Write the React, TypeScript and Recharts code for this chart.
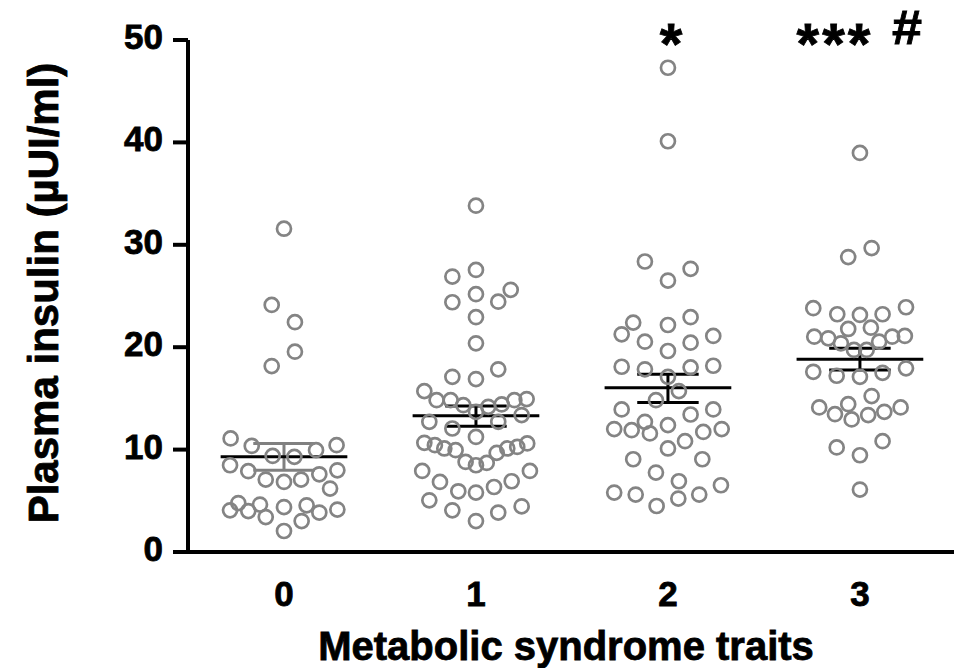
import React from 'react';
import { ScatterChart, Scatter, XAxis, YAxis, ReferenceLine, ReferenceDot } from 'recharts';

const FONT = '"Liberation Sans", Arial, Helvetica, sans-serif';

const categories = [0, 1, 2, 3];
const xTicks = [0, 1, 2, 3];
const yTicks = [0, 10, 20, 30, 40, 50];

// jitter offsets (category units) and values for each group
const g0Offsets = [0, -0.064, 0.057, 0.057, -0.064, -0.278, -0.168, -0.059, 0.054, 0.167, 0.274, -0.281, -0.186, -0.095, 0, 0.089, 0.184, 0.278, 0.24, -0.281, -0.238, -0.186, -0.125, -0.095, 0, 0, 0.092, 0.118, 0.184, 0.278];
const g0Values = [31.57, 24.13, 22.44, 19.56, 18.16, 11.09, 10.36, 9.38, 9.29, 9.94, 10.43, 8.47, 7.89, 7.07, 6.84, 7.07, 7.59, 7.98, 6.19, 4.07, 4.78, 4.0, 4.63, 3.41, 4.39, 2.05, 3.02, 4.56, 3.85, 4.14];

const g1Offsets = [0, -0.123, 0, -0.123, 0, 0.116, 0.181, 0, 0, -0.123, 0, 0.116, -0.269, -0.205, -0.132, -0.066, 0, 0.064, 0.134, 0.2, 0.264, -0.243, -0.123, 0.116, 0.238, 0, -0.269, -0.214, -0.165, -0.106, -0.054, 0, 0.056, 0.108, 0.163, 0.215, 0.267, -0.28, -0.1875, -0.092, 0, 0.094, 0.186, 0.281, -0.243, -0.123, 0, 0.116, 0.238];
const g1Values = [33.82, 26.9, 27.55, 24.39, 25.18, 24.45, 25.6, 22.93, 20.38, 17.11, 16.89, 17.84, 15.71, 14.83, 14.83, 14.34, 13.69, 14.18, 14.41, 14.83, 14.93, 12.71, 12.06, 12.71, 13.37, 11.24, 10.66, 10.43, 10.11, 9.94, 8.8, 8.47, 8.7, 9.68, 10.11, 10.26, 10.6, 7.92, 6.84, 5.93, 5.8, 6.35, 6.91, 7.92, 5.05, 4.07, 3.02, 3.85, 4.46];

const g2Offsets = [0, 0, -0.12, 0, 0.118, -0.181, -0.241, 0, 0.118, -0.12, 0.118, 0.236, 0, -0.241, -0.12, 0.118, 0.236, 0, 0.057, -0.0625, -0.241, -0.12, 0.118, 0.236, -0.28, -0.189, -0.094, 0, 0.184, 0.28, 0.089, 0, -0.181, 0.179, -0.0625, 0.057, -0.28, -0.168, -0.059, 0.054, 0.163, 0.276];
const g2Values = [47.29, 40.11, 28.37, 26.51, 27.65, 22.4, 21.26, 22.17, 22.93, 20.54, 20.44, 21.1, 19.63, 18.09, 17.84, 18.03, 18.19, 17.11, 15.71, 14.83, 13.92, 12.71, 13.43, 13.92, 12.0, 11.9, 11.58, 12.39, 11.73, 12.0, 10.82, 10.11, 9.06, 9.06, 7.76, 6.91, 5.8, 5.61, 4.49, 5.22, 5.61, 6.52];

const g3Offsets = [0, 0.061, -0.061, -0.243, -0.118, 0, 0.118, 0.24, -0.061, 0.057, -0.238, -0.165, -0.099, -0.031, 0.035, 0.1, 0.168, 0.234, -0.243, -0.121, 0, 0.118, 0.24, 0.061, -0.212, -0.061, -0.13, -0.043, 0.043, 0.127, 0.212, -0.121, 0, 0.118, 0];
const g3Values = [38.97, 29.68, 28.8, 23.81, 23.22, 23.15, 23.22, 23.9, 21.78, 21.91, 21.03, 20.87, 20.38, 19.73, 19.73, 20.54, 21.03, 21.1, 17.6, 17.21, 17.11, 17.5, 17.94, 15.23, 14.12, 14.44, 13.46, 12.95, 13.37, 13.69, 14.12, 10.21, 9.45, 10.82, 6.1];

const means = [9.29, 13.3, 16.04, 18.82];
const semHigh = [10.6, 14.25, 17.35, 19.89];
const semLow = [7.98, 12.29, 14.61, 17.77];

const groupOffsets = [g0Offsets, g1Offsets, g2Offsets, g3Offsets];
const groupValues = [g0Values, g1Values, g2Values, g3Values];

const MEAN_HALF = 0.33;
const CAP_HALF = 0.16;
const errColors = ['#808080', '#000000', '#000000', '#000000'];

const groups = categories.map((c, gi) =>
  groupValues[gi].map((v, i) => ({ x: c + groupOffsets[gi][i], y: v }))
);

const Ring = (props: any) => {
  const { cx, cy } = props;
  if (cx == null || cy == null) return null;
  return <circle cx={cx} cy={cy} r={7} fill="none" stroke="#848484" strokeWidth={2.7} />;
};

const textStyle = { fill: '#000', fontWeight: 700, fontFamily: FONT, stroke: '#000', strokeWidth: 0.8 };

const YTick = (props: any) => {
  const { x, y, payload } = props;
  return (
    <text x={x} y={y} dy={9} textAnchor="end" fontSize={35} {...textStyle}>
      {payload.value}
    </text>
  );
};

const XTick = (props: any) => {
  const { x, y, payload } = props;
  return (
    <text x={x} y={y} dy={54} textAnchor="middle" fontSize={35} {...textStyle}>
      {payload.value}
    </text>
  );
};

const Annot = (text: string, dx: number, dy: number, size: number, spacing: number, len?: number) => (props: any) => {
  const { cx, cy } = props;
  if (cx == null || cy == null) return null;
  return (
    <text
      x={cx + dx}
      y={cy + dy}
      textAnchor="middle"
      fontSize={size}
      letterSpacing={spacing}
      {...textStyle}
      {...(len ? { textLength: len, lengthAdjust: 'spacingAndGlyphs' } : {})}
    >
      {text}
    </text>
  );
};

export default function App() {
  return (
    <div style={{ position: 'absolute', left: 0, top: 0, width: 954, height: 668, background: '#fff' }}>
      <ScatterChart width={954} height={668} margin={{ top: 40, right: 0, bottom: 56, left: 128 }}>
        <XAxis
          type="number"
          dataKey="x"
          domain={[-0.5, 3.49]}
          ticks={xTicks}
          allowDataOverflow
          tickLine={false}
          tickSize={0}
          tickMargin={0}
          height={60}
          axisLine={{ stroke: '#000', strokeWidth: 4 }}
          tick={<XTick />}
          label={{
            content: () => (
              <text x={566} y={660} textAnchor="middle" fontSize={40} {...textStyle}>
                Metabolic syndrome traits
              </text>
            ),
          }}
        />
        <YAxis
          type="number"
          dataKey="y"
          domain={[0, 50]}
          ticks={yTicks}
          width={60}
          tickSize={15}
          tickMargin={10}
          tickLine={{ stroke: '#000', strokeWidth: 4 }}
          axisLine={{ stroke: '#000', strokeWidth: 4 }}
          tick={<YTick />}
          label={{
            content: () => (
              <text x={58} y={293} transform="rotate(-90 58 293)" textAnchor="middle" fontSize={42} {...textStyle}>
                Plasma insulin (µUI/ml)
              </text>
            ),
          }}
        />
        {groups.map((data, gi) => (
          <Scatter key={gi} data={data} shape={<Ring />} isAnimationActive={false} />
        ))}
        {categories.map((c, gi) => (
          <ReferenceLine key={'st' + gi} ifOverflow="visible" segment={[{ x: c, y: semLow[gi] }, { x: c, y: semHigh[gi] }]} stroke={errColors[gi]} strokeWidth={3} />
        ))}
        {categories.map((c, gi) => (
          <ReferenceLine key={'ch' + gi} ifOverflow="visible" segment={[{ x: c - CAP_HALF, y: semHigh[gi] }, { x: c + CAP_HALF, y: semHigh[gi] }]} stroke={errColors[gi]} strokeWidth={3} />
        ))}
        {categories.map((c, gi) => (
          <ReferenceLine key={'cl' + gi} ifOverflow="visible" segment={[{ x: c - CAP_HALF, y: semLow[gi] }, { x: c + CAP_HALF, y: semLow[gi] }]} stroke={errColors[gi]} strokeWidth={3} />
        ))}
        {categories.map((c, gi) => (
          <ReferenceLine key={'m' + gi} ifOverflow="visible" segment={[{ x: c - MEAN_HALF, y: means[gi] }, { x: c + MEAN_HALF, y: means[gi] }]} stroke="#000" strokeWidth={3} />
        ))}
        <ReferenceDot x={2} y={50} r={0} ifOverflow="visible" shape={Annot('*', 3, 24, 58, 0)} />
        <ReferenceDot x={3} y={50} r={0} ifOverflow="visible" shape={Annot('***', -25, 24, 58, 3)} />
        <ReferenceDot x={3} y={50} r={0} ifOverflow="visible" shape={Annot('#', 47, 4, 48, 0, 30)} />
      </ScatterChart>
    </div>
  );
}
